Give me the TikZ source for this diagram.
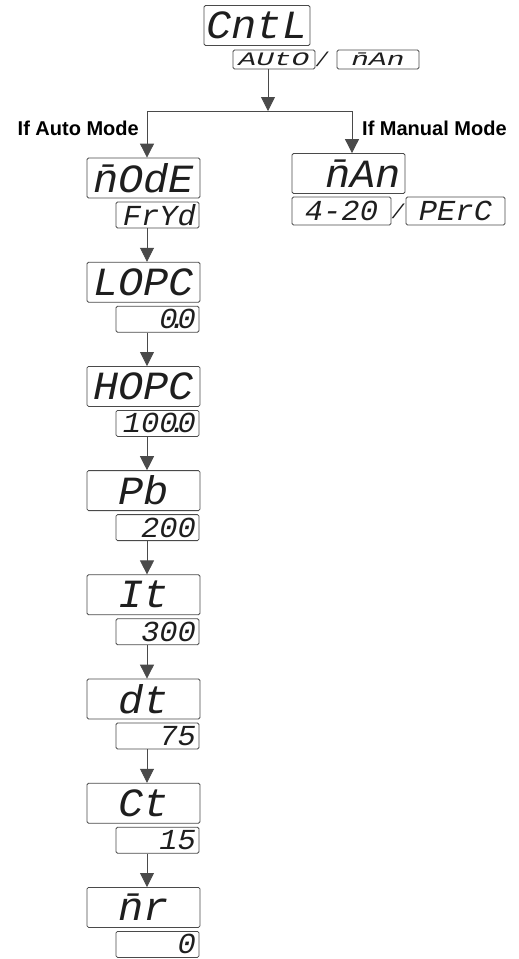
\documentclass[tikz,border=0pt]{standalone}
\usepackage{fontspec}
\setmainfont{Liberation Sans}
\newfontfamily\segfont{Liberation Mono}[FakeStretch=1.05]
\newfontfamily\segwide{Liberation Mono}[FakeStretch=1.55]
\usetikzlibrary{arrows.meta}
\definecolor{lcdline}{HTML}{4A4A4A}
\definecolor{lcdtext}{HTML}{1E1E1E}
\newcommand\segpt{\makebox[0pt]{.}}

\tikzset{
  lcdmain/.style={draw=lcdline, rounded corners=1.5pt, line width=0.8pt,
    minimum width=113pt, minimum height=40pt, inner sep=0pt, text=lcdtext,
    font=\fontsize{40}{40}\segfont\itshape\selectfont},
  lcdsub/.style={draw=lcdline, rounded corners=1.5pt, line width=0.8pt,
    text width=77pt, align=right, inner xsep=3pt, inner ysep=0pt,
    minimum height=26pt, text=lcdtext,
    font=\fontsize{29}{29}\segfont\itshape\selectfont},
  lcdsmall/.style={draw=lcdline, rounded corners=1.5pt, line width=0.8pt,
    text width=76pt, align=center, inner xsep=3pt, inner ysep=0pt,
    minimum height=19pt, text=lcdtext,
    font=\fontsize{19}{19}\segwide\itshape\selectfont},
  slash/.style={text=lcdtext, inner sep=0pt, font=\fontsize{20}{20}\segfont\itshape\selectfont},
  link/.style={draw=lcdline, line width=0.8pt},
  tip/.style={-{Triangle[width=14pt,length=14pt]}},
  cond/.style={text=black, inner sep=0pt, font=\fontsize{20}{20}\selectfont\bfseries}
}

\begin{document}
\begin{tikzpicture}[x=1pt, y=-1pt]
  \useasboundingbox (0,0) rectangle (519,959);
  % menu entry and its choice
  \node[lcdmain, minimum width=106pt] (cntl) at (257,25.5) {CntL};
  \node[lcdsmall] (auto) at (274,59.5) {AUtO};
  \node[slash] (or1) at (322,59.5) {/};
  \node[lcdsmall] (manual) at (378,59.5) {\=nAn};
  \coordinate (split) at (268,111);
  \coordinate (lcol) at (147,111);
  \coordinate (rcol) at (352,111);
  \draw[link, tip] (split |- auto.south) -- (split);
  \draw[link] (lcol) -- (rcol);
  \node[cond, anchor=east] (autolbl) at (139,128) {If Auto Mode};
  \node[cond, anchor=west] (manlbl) at (362,128) {If Manual Mode};
  % auto mode parameters
  \foreach \lbl/\val [count=\k from 0] in {{\=nOdE}/FrYd, LOPC/0\segpt0,
      HOPC/100\segpt0, Pb/200, It/300, dt/75, Ct/15, {\=nr}/0} {
    \node[lcdmain] (p\k) at (143.5,178+104.2*\k) {\lbl};
    \node[lcdsub] (v\k) at (157.5,215+104.2*\k) {\val};
  }
  \draw[link, tip] (lcol) -- (p0.north -| lcol);
  \foreach \k in {0,...,6} {
    \pgfmathtruncatemacro\n{\k+1}
    \draw[link, tip] (v\k.south -| lcol) -- (p\n.north -| lcol);
  }
  % manual mode
  \node[lcdmain, text width=105pt, align=right, inner xsep=4pt] (man) at (348.5,173.5) {\=nAn};
  \node[lcdsub, text width=93pt, align=center, minimum height=28pt] (ma) at (341.5,211) {4-20};
  \node[slash] (or2) at (398,211) {/};
  \node[lcdsub, text width=93pt, align=center, minimum height=28pt] (pc) at (455.5,211) {PErC};
  \draw[link, tip] (rcol) -- (man.north -| rcol);
\end{tikzpicture}
\end{document}
